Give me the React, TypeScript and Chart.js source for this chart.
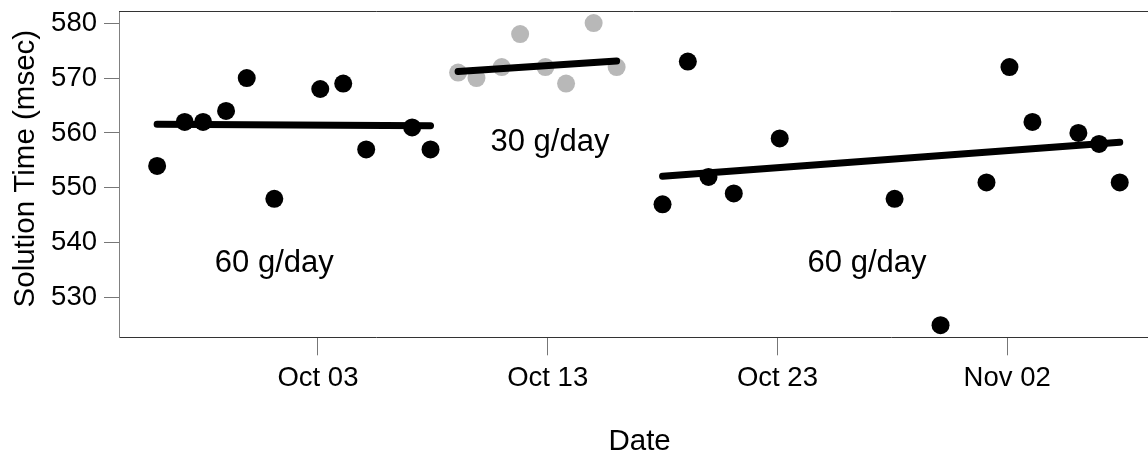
import React, { useEffect, useRef } from "react";
import { Chart, registerables } from "chart.js";

Chart.register(...registerables);

// Day numbers are counted from Oct 03 (day 0); values are solution times in msec.
const highDoseBeforeDays = [-7.0, -5.8, -5.0, -4.0, -3.1, -1.9, 0.1, 1.1, 2.1, 4.1, 4.9];
const highDoseBeforeMs = [554, 562, 562, 564, 570, 548, 568, 569, 557, 561, 557];

const lowDoseDays = [6.1, 6.9, 8.0, 8.8, 9.9, 10.8, 12.0, 13.0];
const lowDoseMs = [571, 570, 572, 578, 572, 569, 580, 572];

const highDoseAfterDays = [15.0, 16.1, 17.0, 18.1, 20.1, 25.1, 27.1, 29.1, 30.1, 31.1, 33.1, 34.0, 34.9];
const highDoseAfterMs = [547, 573, 552, 549, 559, 548, 525, 551, 572, 562, 560, 558, 551];

// Straight-line trend of each phase, given by its two end points.
const trendBeforeDays = [-7.0, 4.9];
const trendBeforeMs = [561.6, 561.3];
const trendLowDays = [6.1, 13.0];
const trendLowMs = [571.2, 573.1];
const trendAfterDays = [15.0, 34.9];
const trendAfterMs = [552.1, 558.3];

// Axis ticks
const xTickDays = [0, 10, 20, 30];
const xTickLabels = ["Oct 03", "Oct 13", "Oct 23", "Nov 02"];
const yTicks = [530, 540, 550, 560, 570, 580];

// Phase annotations
const phaseLabels = ["60 g/day", "30 g/day", "60 g/day"];
const phaseLabelDays = [-1.9, 10.1, 23.9];
const phaseLabelMs = [536.2, 558.2, 536.3];

const X_TITLE = "Date";
const Y_TITLE = "Solution Time (msec)";

const FONT = "'Liberation Sans', Arial, Helvetica, sans-serif";
const CANVAS_W = 1148;
const CANVAS_H = 452;

// Full frame of the plot runs from day -8.68 to 36.68; the right end is cut by the page edge.
const X_MIN = -8.66;
const X_MAX = 36.13;
const X_FRAME_MID = 14;

const toPoints = (xs: number[], ys: number[]) => xs.map((x, i) => ({ x, y: ys[i] }));

const frameTop = {
  id: "frameTop",
  afterDraw(chart: any) {
    const { ctx, chartArea } = chart;
    const y = Math.round(chartArea.top) + 0.5;
    ctx.save();
    ctx.strokeStyle = "#333333";
    ctx.lineWidth = 1;
    ctx.beginPath();
    ctx.moveTo(chartArea.left, y);
    ctx.lineTo(chartArea.right, y);
    ctx.stroke();
    ctx.restore();
  },
};

const axisTitles = {
  id: "axisTitles",
  afterDraw(chart: any) {
    const { ctx, scales, chartArea } = chart;
    ctx.save();
    ctx.fillStyle = "#000000";
    ctx.font = `29.5px ${FONT}`;
    ctx.textAlign = "center";
    ctx.textBaseline = "middle";
    ctx.fillText(X_TITLE, scales.x.getPixelForValue(X_FRAME_MID), chartArea.bottom + 105);
    ctx.translate(25.5, (chartArea.top + chartArea.bottom) / 2 - 5.5);
    ctx.rotate(-Math.PI / 2);
    ctx.fillText(Y_TITLE, 0, 0);
    ctx.restore();
  },
};

const phaseText = {
  id: "phaseText",
  afterDatasetsDraw(chart: any) {
    const { ctx, scales } = chart;
    ctx.save();
    ctx.fillStyle = "#000000";
    ctx.font = `31px ${FONT}`;
    ctx.textAlign = "center";
    ctx.textBaseline = "middle";
    phaseLabels.forEach((label, i) => {
      ctx.fillText(
        label,
        scales.x.getPixelForValue(phaseLabelDays[i]),
        scales.y.getPixelForValue(phaseLabelMs[i])
      );
    });
    ctx.restore();
  },
};

export default function App() {
  const canvasRef = useRef<HTMLCanvasElement | null>(null);

  useEffect(() => {
    if (!canvasRef.current) return;

    const dots = (xs: number[], ys: number[], color: string) => ({
      data: toPoints(xs, ys),
      backgroundColor: color,
      borderWidth: 0,
      pointRadius: 9,
      pointHoverRadius: 9,
      showLine: false,
      order: 1,
    });

    const trend = (xs: number[], ys: number[]) => ({
      data: toPoints(xs, ys),
      borderColor: "#000000",
      borderWidth: 7,
      borderCapStyle: "round",
      pointRadius: 0,
      showLine: true,
      fill: false,
      order: 0,
    });

    const chart = new Chart(canvasRef.current, {
      type: "scatter",
      data: {
        datasets: [
          dots(highDoseBeforeDays, highDoseBeforeMs, "#000000"),
          dots(lowDoseDays, lowDoseMs, "#b8b8b8"),
          dots(highDoseAfterDays, highDoseAfterMs, "#000000"),
          trend(trendBeforeDays, trendBeforeMs),
          trend(trendLowDays, trendLowMs),
          trend(trendAfterDays, trendAfterMs),
        ] as any,
      },
      options: {
        responsive: false,
        animation: false,
        events: [],
        layout: { autoPadding: false, padding: { top: 11, left: 0, right: 0, bottom: 0 } },
        plugins: {
          legend: { display: false },
          tooltip: { enabled: false },
        },
        scales: {
          x: {
            type: "linear",
            min: X_MIN,
            max: X_MAX,
            afterBuildTicks: (scale: any) => {
              scale.ticks = xTickDays.map((value) => ({ value }));
            },
            afterFit: (scale: any) => {
              scale.height = CANVAS_H - 337.3;
              scale.paddingLeft = 0;
              scale.paddingRight = 0;
            },
            grid: {
              display: true,
              drawOnChartArea: false,
              drawTicks: true,
              tickLength: 18,
              color: "#777777",
              lineWidth: 1,
            },
            border: { display: true, color: "#333333", width: 1 },
            ticks: {
              autoSkip: false,
              maxRotation: 0,
              minRotation: 0,
              padding: 7,
              color: "#000000",
              font: { family: FONT, size: 27.5 },
              callback: (_v: any, index: number) => xTickLabels[index],
            },
            title: { display: false },
          },
          y: {
            type: "linear",
            min: 522.8,
            max: 582.2,
            afterBuildTicks: (scale: any) => {
              scale.ticks = yTicks.map((value) => ({ value }));
            },
            afterFit: (scale: any) => {
              scale.width = 119;
              scale.paddingTop = 0;
              scale.paddingBottom = 0;
            },
            grid: {
              display: true,
              drawOnChartArea: false,
              drawTicks: true,
              tickLength: 15,
              color: "#777777",
              lineWidth: 1,
            },
            border: { display: true, color: "#808080", width: 1 },
            ticks: {
              padding: 7,
              color: "#000000",
              font: { family: FONT, size: 27.5 },
              callback: (v: any) => String(v),
            },
            title: { display: false },
          },
        },
      } as any,
      plugins: [frameTop, axisTitles, phaseText],
    });

    return () => chart.destroy();
  }, []);

  return (
    <div
      style={{
        position: "fixed",
        left: 0,
        top: 0,
        width: CANVAS_W,
        height: CANVAS_H,
        overflow: "hidden",
        background: "#ffffff",
      }}
    >
      <canvas
        ref={canvasRef}
        width={CANVAS_W}
        height={CANVAS_H}
        style={{ display: "block", width: CANVAS_W, height: CANVAS_H }}
      />
    </div>
  );
}
